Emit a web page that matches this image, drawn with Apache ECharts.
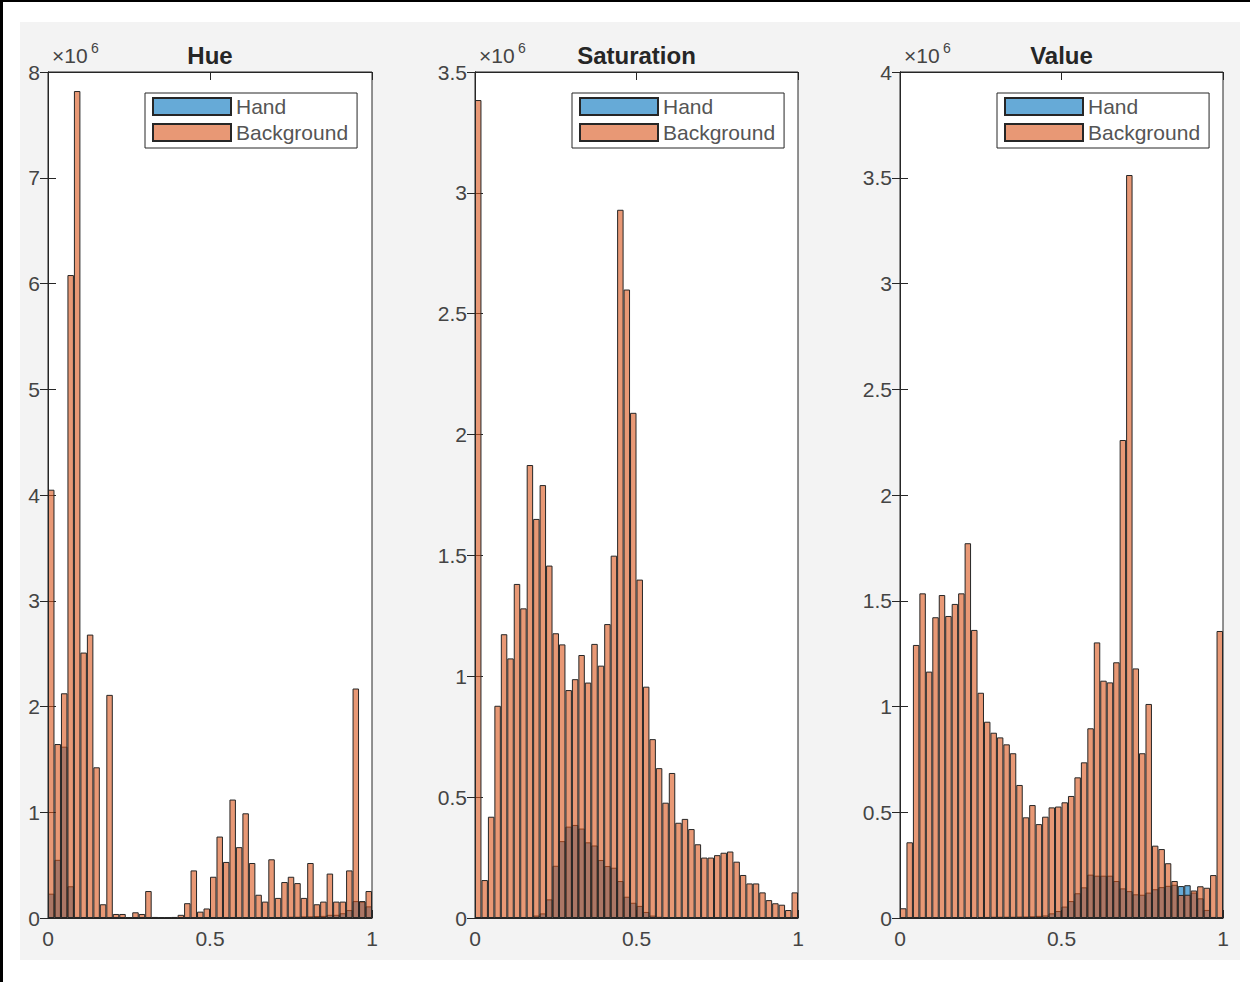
<!DOCTYPE html>
<html><head><meta charset="utf-8">
<script src="https://cdn.jsdelivr.net/npm/echarts@6/dist/echarts.min.js"></script>
<style>
html,body{margin:0;padding:0;background:#fff;}
#frame{position:absolute;left:0;top:0;width:1250px;height:982px;overflow:hidden;}
#gray{position:absolute;left:20px;top:22px;width:1220px;height:938px;background:#f3f3f3;}
#bl{position:absolute;left:0;top:0;width:3px;height:982px;background:#000;}
#bt{position:absolute;left:0;top:0;width:1250px;height:2px;background:#000;}
#chart{position:absolute;left:0;top:0;width:1250px;height:982px;}
</style></head>
<body><div id="frame"><div id="gray"></div><div id="bl"></div><div id="bt"></div><div id="chart"></div></div>
<script>
// 50 histogram bins on [0,1], values in units of 10^6
const binCenters = ['0.01','0.03','0.05','0.07','0.09','0.11','0.13','0.15','0.17','0.19',
  '0.21','0.23','0.25','0.27','0.29','0.31','0.33','0.35','0.37','0.39',
  '0.41','0.43','0.45','0.47','0.49','0.51','0.53','0.55','0.57','0.59',
  '0.61','0.63','0.65','0.67','0.69','0.71','0.73','0.75','0.77','0.79',
  '0.81','0.83','0.85','0.87','0.89','0.91','0.93','0.95','0.97','0.99'];
const seriesNames = ['Hand', 'Background'];
const panelTitles = ['Hue', 'Saturation', 'Value'];
const xTickLabels = [0, 0.5, 1];

const hueHand = [0.23,0.55,1.62,0.30,0.01,0.005,0.004,0.003,0.003,0.003,
  0.002,0.002,0.001,0.001,0.001,0.001,0.001,0.001,0.001,0.001,
  0.001,0.001,0.002,0.002,0.002,0.002,0.003,0.003,0.004,0.004,
  0.005,0.005,0.006,0.006,0.008,0.008,0.01,0.012,0.012,0.015,
  0.015,0.018,0.02,0.03,0.03,0.045,0.075,0.16,0.155,0.11];
const hueBackground = [4.05,1.645,2.125,6.08,7.82,2.51,2.68,1.425,0.13,2.11,
  0.038,0.038,0.005,0.054,0.038,0.255,0.01,0.003,0.005,0.01,
  0.03,0.14,0.45,0.06,0.09,0.39,0.77,0.53,1.12,0.67,
  0.99,0.52,0.22,0.155,0.555,0.19,0.34,0.39,0.33,0.19,
  0.52,0.13,0.155,0.42,0.155,0.155,0.45,2.17,0.16,0.255];

const satHand = [0,0,0,0,0,0,0,0.001,0.003,0.01,
  0.019,0.077,0.216,0.318,0.378,0.385,0.37,0.313,0.30,0.24,
  0.215,0.208,0.153,0.088,0.063,0.05,0.025,0.01,0.005,0.002,
  0.001,0.001,0,0,0,0,0,0,0,0,
  0,0,0,0,0,0,0,0,0,0];
const satBackground = [3.384,0.157,0.419,0.878,1.174,1.074,1.382,1.281,1.874,1.651,
  1.791,1.458,1.178,1.132,0.943,0.988,1.088,0.974,1.134,1.044,
  1.216,1.499,2.93,2.60,2.09,1.40,0.957,0.74,0.62,0.477,
  0.60,0.394,0.41,0.368,0.305,0.25,0.25,0.26,0.27,0.275,
  0.233,0.178,0.143,0.143,0.106,0.074,0.061,0.055,0.033,0.106];

const valHand = [0.001,0.001,0.002,0.002,0.002,0.003,0.003,0.003,0.003,0.004,
  0.004,0.004,0.005,0.005,0.006,0.006,0.006,0.006,0.007,0.007,
  0.008,0.01,0.012,0.022,0.033,0.054,0.08,0.117,0.145,0.205,
  0.20,0.20,0.20,0.175,0.14,0.127,0.112,0.11,0.12,0.136,
  0.146,0.152,0.157,0.151,0.155,0.12,0.093,0.038,0.005,0.001];
const valBackground = [0.046,0.358,1.291,1.535,1.165,1.422,1.527,1.428,1.485,1.535,
  1.772,1.362,1.065,0.928,0.876,0.854,0.821,0.779,0.629,0.476,
  0.534,0.444,0.479,0.523,0.527,0.547,0.577,0.665,0.736,0.897,
  1.303,1.122,1.114,1.209,2.26,3.513,1.18,0.779,1.012,0.342,
  0.326,0.259,0.175,0.109,0.11,0.13,0.15,0.143,0.203,1.357];

const yMax = [8, 3.5, 4];
const yInterval = [1, 0.5, 0.5];

const panels = [
  {left:48, width:324, hand:hueHand, bg:hueBackground, legendLeft:145},
  {left:475, width:323, hand:satHand, bg:satBackground, legendLeft:572},
  {left:900, width:323, hand:valHand, bg:valBackground, legendLeft:997}
];

const FONT = '"Liberation Sans", Arial, Helvetica, sans-serif';
const AX = '#262626';
const LBL = '#444444';
const TOP = 72, HEIGHT = 846;

const grid = [], xAxis = [], yAxis = [], series = [], legend = [], graphic = [];
panels.forEach((p, i) => {
  grid.push({left:p.left, top:TOP, width:p.width, height:HEIGHT, show:true,
    backgroundColor:'#ffffff', borderColor:AX, borderWidth:1});
  xAxis.push({type:'category', gridIndex:i, data:binCenters, show:false, boundaryGap:true});
  const xv = {type:'value', gridIndex:i, min:0, max:1, interval:0.5,
    axisLine:{show:true, lineStyle:{color:AX, width:1}},
    axisTick:{show:true, inside:true, length:8, lineStyle:{color:AX}},
    splitLine:{show:false},
    axisLabel:{show:true, margin:10, fontSize:21, color:LBL, fontFamily:FONT,
      formatter: v => (xTickLabels.indexOf(v) >= 0 ? String(v) : '')}};
  xAxis.push(Object.assign({}, xv, {position:'bottom'}));
  xAxis.push(Object.assign({}, xv, {position:'top', axisLabel:{show:false}}));
  const yv = {type:'value', gridIndex:i, min:0, max:yMax[i], interval:yInterval[i],
    axisLine:{show:true, lineStyle:{color:AX, width:1}},
    axisTick:{show:true, inside:true, length:8, lineStyle:{color:AX}},
    splitLine:{show:false},
    axisLabel:{show:true, margin:8, fontSize:21, color:LBL, fontFamily:FONT}};
  yAxis.push(Object.assign({}, yv, {position:'left'}));
  yAxis.push(Object.assign({}, yv, {position:'right', axisLabel:{show:false}}));
  series.push({type:'bar', name:seriesNames[0], xAxisIndex:3*i, yAxisIndex:2*i, data:p.hand,
    barGap:'-100%', barCategoryGap:'0%', silent:true,
    itemStyle:{color:'rgba(0,114,189,0.6)', borderColor:AX, borderWidth:1}});
  series.push({type:'bar', name:seriesNames[1], xAxisIndex:3*i, yAxisIndex:2*i, data:p.bg,
    barGap:'-100%', barCategoryGap:'0%', silent:true,
    itemStyle:{color:'rgba(217,83,25,0.6)', borderColor:AX, borderWidth:1}});
  legend.push({data:seriesNames, orient:'vertical', left:p.legendLeft, top:93,
    itemWidth:78, itemHeight:17, itemGap:5, padding:[3,9,5,7],
    backgroundColor:'#ffffff', borderColor:AX, borderWidth:1, borderRadius:0,
    icon:'rect', selectedMode:false,
    textStyle:{fontSize:21, color:'#555555', fontFamily:FONT}});
  const cx = p.left + p.width / 2;
  graphic.push({type:'text', x:cx, y:55, z:10,
    style:{text:panelTitles[i], font:'bold 24px ' + FONT, fill:'#262626',
      textAlign:'center', textVerticalAlign:'middle'}});
  graphic.push({type:'text', left:p.left + 4, top:45, z:10,
    style:{text:'×10', font:'21px ' + FONT, fill:LBL}});
  graphic.push({type:'text', left:p.left + 43, top:41, z:10,
    style:{text:'6', font:'14px ' + FONT, fill:LBL}});
});

const chart = echarts.init(document.getElementById('chart'), null, {renderer:'svg', width:1250, height:982});
chart.setOption({
  animation:false,
  backgroundColor:'transparent',
  grid, xAxis, yAxis, series, legend, graphic
});
</script></body></html>
